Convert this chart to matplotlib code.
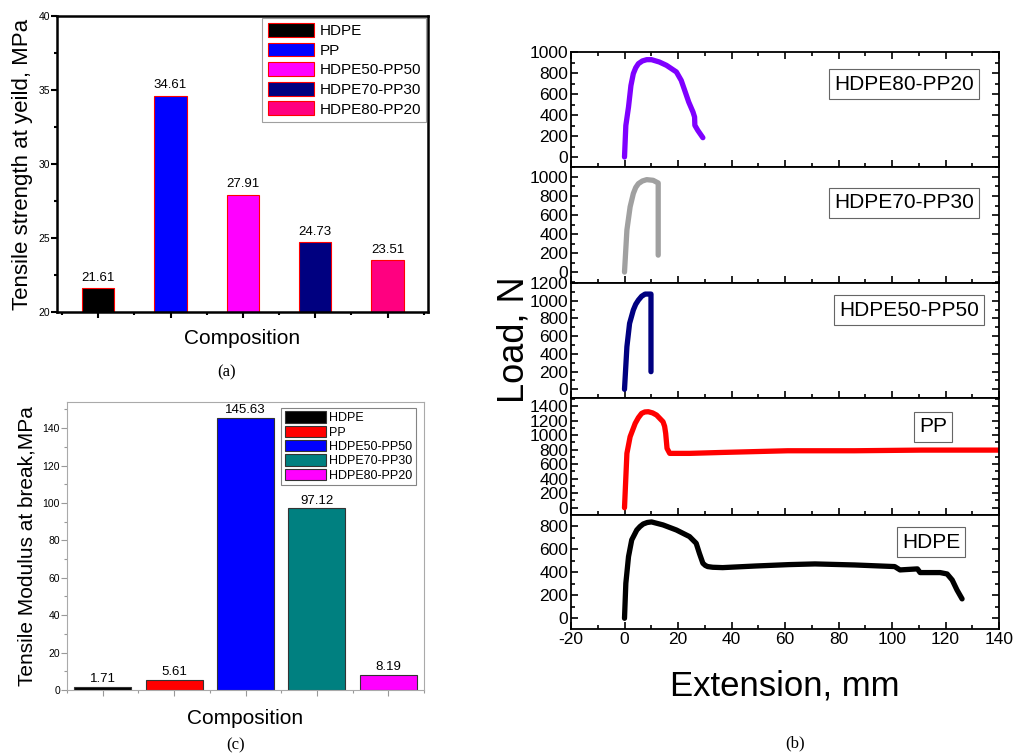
import numpy as np
import matplotlib
matplotlib.use("Agg")
import matplotlib.pyplot as plt
from matplotlib.ticker import MultipleLocator

plt.rcParams['font.family'] = ['Liberation Sans', 'DejaVu Sans']
plt.rcParams['axes.unicode_minus'] = False

# ---- data ----
compositions = ["HDPE", "PP", "HDPE50-PP50", "HDPE70-PP30", "HDPE80-PP20"]
yield_strength = [21.61, 34.61, 27.91, 24.73, 23.51]
yield_colors = ["#000000", "#0000ff", "#ff00ff", "#000080", "#ff0080"]

modulus_break = [1.71, 5.61, 145.63, 97.12, 8.19]
modulus_colors = ["#000000", "#ff0000", "#0000ff", "#008080", "#ff00ff"]

# load-extension curves
ext_hdpe80 = [0, 0.5, 1.5, 2.4, 3.3, 4.2, 5.2, 6.7, 8.3, 10.1, 13, 15.7, 19.4, 21.2, 22.5, 24.0, 25.6, 26.2, 26.3, 27.4, 29.3]
load_hdpe80 = [0, 300, 476, 680, 794, 850, 889, 915, 927, 927, 905, 873, 810, 730, 635, 524, 429, 381, 302, 254, 184]

ext_hdpe70 = [0, 0.9, 2.1, 3.3, 4.2, 5.2, 6.7, 8.3, 10.7, 12.6, 12.6]
load_hdpe70 = [0, 442, 686, 826, 890, 930, 958, 972, 965, 937, 178]

ext_hdpe50 = [0, 0.9, 1.9, 3.3, 4.2, 5.2, 6.4, 7.7, 9.9, 9.9]
load_hdpe50 = [0, 481, 744, 895, 960, 1007, 1050, 1075, 1075, 199]

ext_pp = [0, 0.9, 2.1, 4.0, 5.2, 6.4, 7.6, 8.9, 10.5, 12.0, 14.4, 15.0, 15.4, 15.9, 16.9, 24.3, 36.7, 61, 86, 111, 142]
load_pp = [0, 748, 977, 1161, 1240, 1298, 1318, 1321, 1305, 1275, 1183, 1120, 1022, 817, 748, 748, 761, 784, 784, 793, 793]

ext_hdpe = [0, 0.5, 1.5, 2.7, 4.6, 5.8, 7.0, 8.5, 10.1, 14.4, 19.4, 24.3, 26.8, 28.0, 29.3, 30.2, 31.1, 33, 36.7, 49, 61.4,
            71.2, 86, 101, 103, 109.5, 110.5, 118, 120.6, 122.5, 124.3, 126.2]
load_hdpe = [0, 303, 534, 679, 765, 795, 817, 830, 835, 809, 765, 708, 650, 563, 477, 458, 448, 442, 439, 453, 465,
             471, 462, 448, 419, 428, 396, 396, 384, 332, 245, 168]

fig = plt.figure(figsize=(10.25, 7.54), dpi=100)
W, H = 1025.0, 754.0


def rect(x0, y0, x1, y1):
    return [x0 / W, 1 - y1 / H, (x1 - x0) / W, (y1 - y0) / H]


pos = np.arange(1, 6)

# ---- (a) ----
ax_a = fig.add_axes(rect(57, 16, 428, 312))
ax_a.bar(pos, yield_strength, width=0.45, color=yield_colors, edgecolor="red", linewidth=0.8)
for p, v in zip(pos, yield_strength):
    ax_a.text(p, v + 0.3, f"{v:.2f}", ha="center", va="bottom", fontsize=9.5)
ax_a.set_ylim(20, 40)
ax_a.set_xlim(0.43, 5.56)
ax_a.set_xticks(pos)
ax_a.set_xticklabels([])
ax_a.xaxis.set_minor_locator(MultipleLocator(0.5))
ax_a.yaxis.set_major_locator(MultipleLocator(5))
ax_a.yaxis.set_minor_locator(MultipleLocator(2.5))
ax_a.tick_params(axis="both", which="major", direction="out", length=4, width=1.5, labelsize=7.5, pad=1)
ax_a.tick_params(axis="both", which="minor", direction="out", length=2.5, width=1.5)
for s in ax_a.spines.values():
    s.set_linewidth(1.8)
ax_a.set_ylabel("Tensile strength at yeild, MPa", fontsize=16, labelpad=4)
ax_a.set_xlabel("Composition", fontsize=15, labelpad=6)
handles = [plt.Rectangle((0, 0), 1, 1, facecolor=c, edgecolor="red", linewidth=0.8) for c in yield_colors]
leg = ax_a.legend(handles, compositions, loc="upper right", fontsize=11, frameon=True, fancybox=False,
                  borderaxespad=0.1, handlelength=3.0, handleheight=1.0, labelspacing=0.3,
                  borderpad=0.35, handletextpad=0.4)
leg.get_frame().set_edgecolor("#888888")
leg.get_frame().set_linewidth(0.8)
fig.text(227 / W, 1 - 372 / H, "(a)", ha="center", va="center", fontsize=12, family="Liberation Serif")

# ---- (c) ----
ax_c = fig.add_axes(rect(67, 402, 424, 690))
ax_c.bar(pos, modulus_break, width=0.8, color=modulus_colors, edgecolor="#333333", linewidth=0.8)
for p, v in zip(pos, modulus_break):
    ax_c.text(p, v + 1.0, f"{v:.2f}", ha="center", va="bottom", fontsize=9.5)
ax_c.set_ylim(0, 154)
ax_c.set_xlim(0.5, 5.5)
ax_c.set_xticks(pos)
ax_c.set_xticklabels([])
ax_c.xaxis.set_minor_locator(MultipleLocator(0.5))
ax_c.yaxis.set_major_locator(MultipleLocator(20))
ax_c.yaxis.set_minor_locator(MultipleLocator(10))
ax_c.tick_params(axis="both", which="major", direction="out", length=4, width=0.8, color="#999999",
                 labelsize=7.5, pad=1)
ax_c.tick_params(axis="both", which="minor", direction="out", length=2.5, width=0.8, color="#999999")
for s in ax_c.spines.values():
    s.set_linewidth(0.8)
    s.set_color("#aaaaaa")
ax_c.set_ylabel("Tensile Modulus at break,MPa", fontsize=15, labelpad=4)
ax_c.set_xlabel("Composition", fontsize=15, labelpad=8)
handles = [plt.Rectangle((0, 0), 1, 1, facecolor=c, edgecolor="#333333", linewidth=0.8) for c in modulus_colors]
leg = ax_c.legend(handles, compositions, loc="upper right", bbox_to_anchor=(0.98, 0.985), fontsize=9,
                  frameon=True, fancybox=False, borderaxespad=0.1, handlelength=3.3, handleheight=1.0,
                  labelspacing=0.12, borderpad=0.3, handletextpad=0.2)
leg.get_frame().set_edgecolor("#666666")
leg.get_frame().set_linewidth(0.8)
fig.text(236 / W, 1 - 745 / H, "(c)", ha="center", va="center", fontsize=12, family="Liberation Serif")

# ---- (b) ----
curves = [
    (ext_hdpe80, load_hdpe80, "#7f00ff", "HDPE80-PP20", (-95, 1000), 1000),
    (ext_hdpe70, load_hdpe70, "#a0a0a0", "HDPE70-PP30", (-115, 1105), 1000),
    (ext_hdpe50, load_hdpe50, "#000080", "HDPE50-PP50", (-98, 1200), 1200),
    (ext_pp, load_pp, "#ff0000", "PP", (-100, 1510), 1400),
    (ext_hdpe, load_hdpe, "#000000", "HDPE", (-93, 895), 800),
]
edges = [52, 167, 283, 398, 515, 629]
label_boxes = [(904, 84), (904, 203), (909, 310), (933, 427), (931, 542)]
axes_b = []
for i, (xs, ys, col, name, ylim, ymax) in enumerate(curves):
    ax = fig.add_axes(rect(571, edges[i], 999, edges[i + 1]))
    ax.plot(xs, ys, color=col, linewidth=3.8, solid_capstyle="round", solid_joinstyle="round")
    ax.set_xlim(-20, 140)
    ax.set_ylim(*ylim)
    ax.set_yticks(np.arange(0, ymax + 1, 200))
    ax.yaxis.set_minor_locator(MultipleLocator(100))
    ax.xaxis.set_major_locator(MultipleLocator(20))
    ax.xaxis.set_minor_locator(MultipleLocator(10))
    ax.tick_params(axis="both", which="major", direction="in", length=5, width=1.2, labelsize=12.5,
                   right=True, top=(i == 0), pad=2)
    ax.tick_params(axis="both", which="minor", direction="in", length=3, width=1.2,
                   right=True, top=(i == 0))
    for s in ax.spines.values():
        s.set_linewidth(1.3)
    if i < 4:
        ax.set_xticklabels([])
    bx, by = label_boxes[i]
    fig.text(bx / W, 1 - by / H, name, ha="center", va="center", fontsize=15,
             bbox=dict(boxstyle="square,pad=0.25", facecolor="white", edgecolor="#666666", linewidth=0.8))
    axes_b.append(ax)

axes_b[-1].set_xlabel("Extension, mm", fontsize=25, labelpad=16)
fig.text(514 / W, 1 - 340 / H, "Load, N", rotation=90, ha="center", va="center", fontsize=26)
fig.text(795 / W, 1 - 743 / H, "(b)", ha="center", va="center", fontsize=12, family="Liberation Serif")

fig.savefig("out.png", dpi=100)
